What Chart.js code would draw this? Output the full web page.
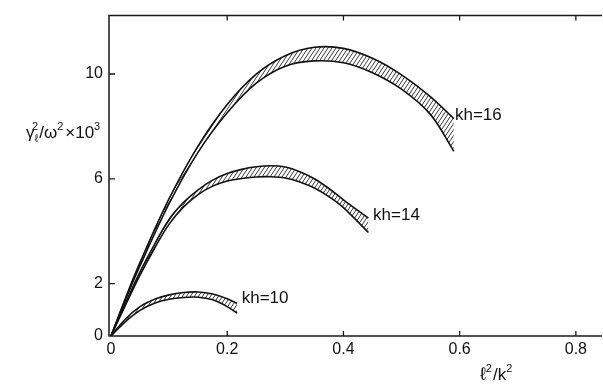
<!DOCTYPE html>
<html>
<head>
<meta charset="utf-8">
<script src="https://cdn.jsdelivr.net/npm/chart.js@4/dist/chart.umd.min.js"></script>
<style>
html,body{margin:0;padding:0;background:#fff;}
#c{display:block;}
</style>
</head>
<body>
<canvas id="c" width="603" height="386"></canvas>
<script>
// ---- data ----
const xTicks = [0, 0.2, 0.4, 0.6, 0.8];
const yTicks = [0, 2, 6, 10];

const kh16X     = [0, 0.025, 0.05, 0.1, 0.15, 0.2, 0.25, 0.3, 0.35, 0.4, 0.45, 0.5, 0.55, 0.59];
const kh16Upper = [0, 1.45, 2.81, 5.24, 7.26, 8.84, 10.0, 10.7, 11.02, 10.98, 10.6, 9.97, 9.13, 8.3];
const kh16Lower = [0, 1.38, 2.68, 5.05, 7.02, 8.52, 9.65, 10.3, 10.5, 10.43, 10.05, 9.42, 8.45, 7.05];

const kh14X     = [0, 0.025, 0.05, 0.075, 0.1, 0.125, 0.15, 0.175, 0.2, 0.225, 0.25, 0.275, 0.3, 0.325, 0.35, 0.375, 0.4, 0.443];
const kh14Upper = [0, 1.25, 2.45, 3.5, 4.45, 5.1, 5.58, 5.95, 6.2, 6.36, 6.46, 6.5, 6.45, 6.27, 6.0, 5.63, 5.2, 4.5];
const kh14Lower = [0, 1.18, 2.32, 3.35, 4.27, 4.93, 5.4, 5.72, 5.92, 6.01, 6.07, 6.08, 6.03, 5.88, 5.65, 5.32, 4.9, 3.95];

const kh10X     = [0, 0.025, 0.05, 0.075, 0.1, 0.125, 0.15, 0.175, 0.2, 0.217];
const kh10Upper = [0, 0.65, 1.12, 1.4, 1.57, 1.66, 1.68, 1.6, 1.42, 1.25];
const kh10Lower = [0, 0.55, 0.98, 1.25, 1.4, 1.47, 1.48, 1.38, 1.12, 0.87];

const curveLabels = ['kh=16', 'kh=14', 'kh=10'];
const labelAnchors = [[0.592, 8.42], [0.451, 4.6], [0.225, 1.43]];

// ---- hatch pattern ----
const ctx0 = document.getElementById('c').getContext('2d');
const hatch = ctx0.createPattern((function(){
  const t = document.createElement('canvas');
  t.width = 4; t.height = 6;
  const g = t.getContext('2d');
  g.strokeStyle = '#222';
  g.lineWidth = 0.9;
  g.beginPath();
  for (let k = -1; k <= 1; k++) { g.moveTo(k * 4, 6); g.lineTo(k * 4 + 4, 0); }
  g.stroke();
  return t;
})(), 'repeat');

function pts(xs, ys) { return xs.map((x, i) => ({x: x, y: ys[i]})); }

function bandSets(xs, lo, up) {
  const common = {
    borderColor: '#111', borderWidth: 1.6, pointRadius: 0,
    tension: 0.35
  };
  return [
    Object.assign({data: pts(xs, lo), fill: false}, common),
    Object.assign({data: pts(xs, up), fill: '-1', backgroundColor: hatch}, common)
  ];
}

const FONT = "'Liberation Sans', Arial, sans-serif";

const framePlugin = {
  id: 'frame',
  afterDraw(chart) {
    const c = chart.ctx, a = chart.chartArea;
    const xs = chart.scales.x, ys = chart.scales.y;
    c.save();
    c.strokeStyle = '#1a1a1a';
    c.lineWidth = 1.5;
    c.beginPath();
    c.moveTo(a.right, a.top); c.lineTo(a.left, a.top);
    c.lineTo(a.left, a.bottom); c.lineTo(a.right, a.bottom);
    c.stroke();
    c.lineWidth = 1.3;
    c.beginPath();
    xTicks.forEach(v => {
      if (v === 0) return;
      const px = xs.getPixelForValue(v);
      c.moveTo(px, a.bottom); c.lineTo(px, a.bottom - 5);
      c.moveTo(px, a.top); c.lineTo(px, a.top + 5);
    });
    yTicks.forEach(v => {
      if (v === 0) return;
      const py = ys.getPixelForValue(v);
      c.moveTo(a.left, py); c.lineTo(a.left + 6, py);
    });
    c.stroke();

    // curve labels
    c.fillStyle = '#111';
    c.font = '17px ' + FONT;
    c.textBaseline = 'middle';
    c.textAlign = 'left';
    curveLabels.forEach((t, i) => {
      c.fillText(t, xs.getPixelForValue(labelAnchors[i][0]), ys.getPixelForValue(labelAnchors[i][1]));
    });

    // axis titles with sub/superscripts
    function runs(parts, x, y) {
      c.textBaseline = 'alphabetic';
      parts.forEach(p => {
        c.font = p[1] + 'px ' + FONT;
        c.fillText(p[0], x, y + p[2]);
        x += c.measureText(p[0]).width + (p[3] || 0);
      });
    }
    runs([['\u03B3', 17, 0, 0], ['\u2113', 11, 4, -6], ['2', 11, -8, 1], ['/', 17, 0, 0],
          ['\u03C9', 17, 0, 0], ['2', 11, -8, 2], ['\u00D710', 17, 0, 0], ['3', 11, -8, 0]], 26, 138);
    runs([['\u2113', 18, 0, 0], ['2', 11, -8, 1], ['/', 17, 0, 0], ['k', 17, 0, 0], ['2', 11, -8, 0]], 480, 380);
    c.restore();
  }
};

new Chart(ctx0, {
  type: 'line',
  data: {
    datasets: [].concat(
      bandSets(kh16X, kh16Lower, kh16Upper),
      bandSets(kh14X, kh14Lower, kh14Upper),
      bandSets(kh10X, kh10Lower, kh10Upper)
    )
  },
  options: {
    responsive: false,
    animation: false,
    devicePixelRatio: 1,
    layout: {padding: {top: 12, right: 1, left: 0, bottom: 0}},
    plugins: {legend: {display: false}, tooltip: {enabled: false}},
    scales: {
      x: {
        type: 'linear', min: -0.0034, max: 0.845,
        grid: {display: false, drawTicks: false}, border: {display: false},
        afterBuildTicks(s) { s.ticks = xTicks.map(v => ({value: v})); },
        afterFit(s) { s.height = 50; },
        ticks: {
          padding: 4, color: '#111', font: {family: FONT, size: 16},
          maxRotation: 0, autoSkip: false,
          callback: v => v === 0 ? '0' : v.toFixed(1)
        }
      },
      y: {
        type: 'linear', min: 0, max: 12.23,
        grid: {display: false, drawTicks: false}, border: {display: false},
        afterBuildTicks(s) { s.ticks = yTicks.map(v => ({value: v})); },
        afterFit(s) { s.width = 109; },
        ticks: {
          padding: 6, color: '#111', font: {family: FONT, size: 16},
          autoSkip: false, callback: v => String(v)
        }
      }
    }
  },
  plugins: [framePlugin]
});
</script>
</body>
</html>
